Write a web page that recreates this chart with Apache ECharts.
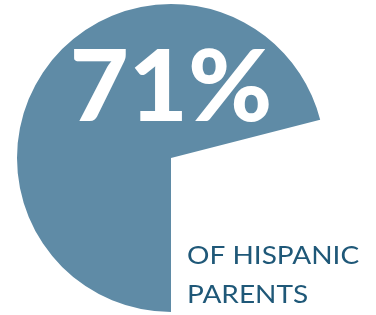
<!DOCTYPE html>
<html>
<head>
<meta charset="utf-8">
<script src="https://cdn.jsdelivr.net/npm/echarts@6/dist/echarts.min.js"></script>
<style>
html, body { margin: 0; padding: 0; background: #fff; }
#chart { width: 376px; height: 315px; }
</style>
</head>
<body>
<div id="chart"></div>
<script>
// share of hispanic parents
const names = ['Hispanic parents', 'Other']
const values = [71, 29]
const labelLines = ['OF HISPANIC', 'PARENTS']

const chart = echarts.init(document.getElementById('chart'), null, { renderer: 'canvas' })
const option = {
    animation: false,
    series: [{
        type: 'pie',
        center: [171, 158],
        radius: 154,
        startAngle: -90,
        clockwise: true,
        silent: true,
        z: 1,
        label: { show: false },
        labelLine: { show: false },
        data: names.map((n, i) => ({
            name: n,
            value: values[i],
            itemStyle: { color: i === 0 ? '#5f8ba6' : 'rgba(0,0,0,0)' }
        }))
    }],
    graphic: [
        {
            type: 'text',
            x: 171, y: 89,
            z: 100,
            scaleX: 1.03,
            style: {
                text: values[0] + '%',
                fill: '#fff',
                font: '900 99px Lato',
                textAlign: 'center',
                textVerticalAlign: 'middle'
            }
        },
        {
            type: 'text',
            x: 187, y: 256,
            z: 100,
            scaleX: 1.12,
            style: {
                text: labelLines[0],
                fill: '#1f5878',
                font: '400 25px Lato',
                textAlign: 'left',
                textVerticalAlign: 'middle'
            }
        },
        {
            type: 'text',
            x: 187, y: 295,
            z: 100,
            scaleX: 1.12,
            style: {
                text: labelLines[1],
                fill: '#1f5878',
                font: '400 25px Lato',
                textAlign: 'left',
                textVerticalAlign: 'middle'
            }
        }
    ]
}
chart.setOption(option)
</script>
</body>
</html>
